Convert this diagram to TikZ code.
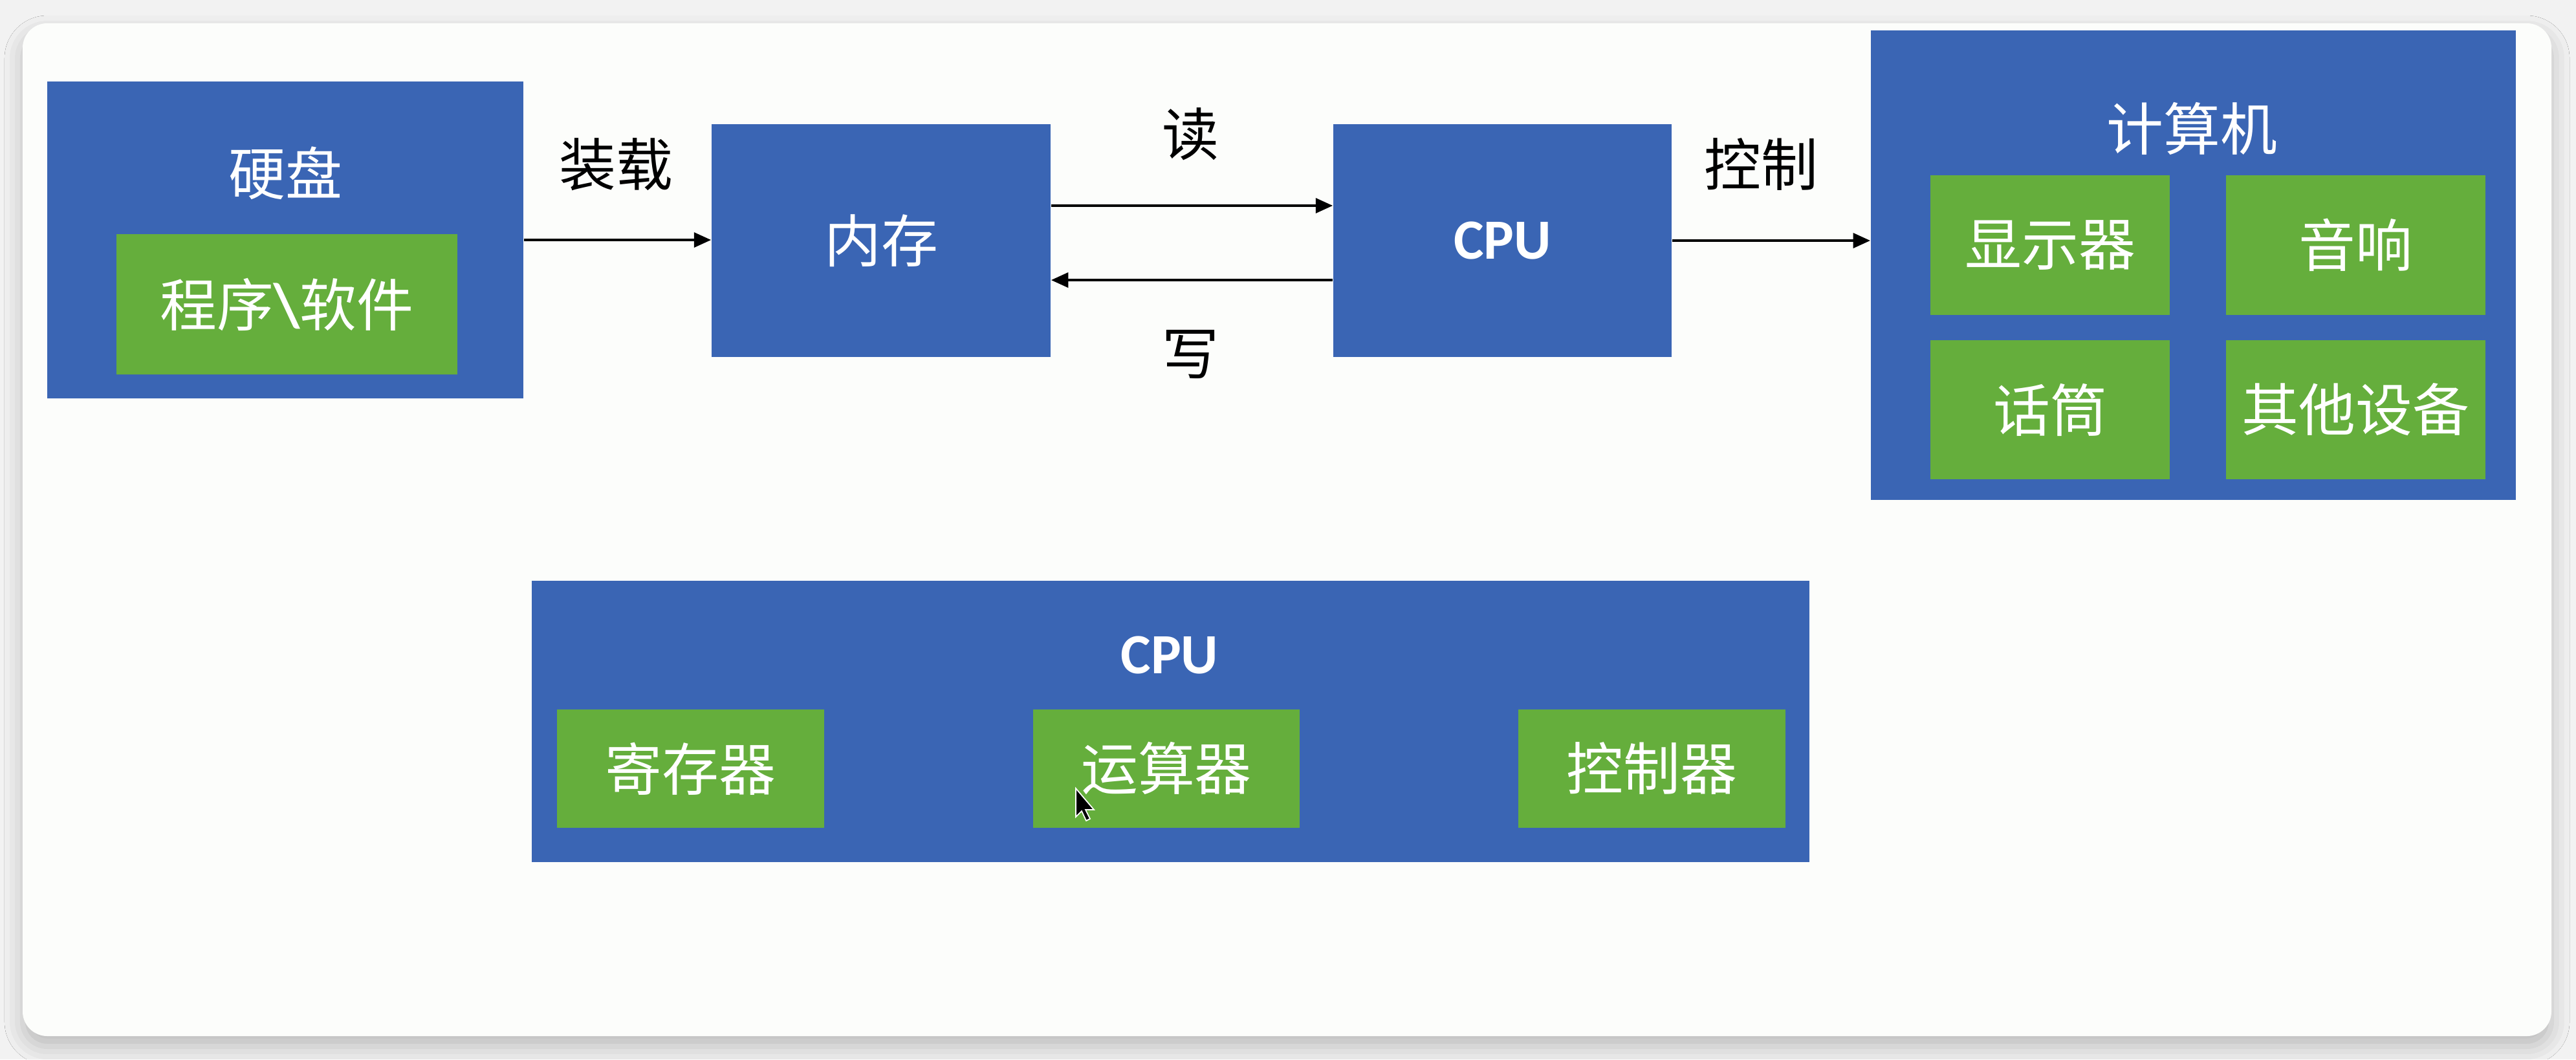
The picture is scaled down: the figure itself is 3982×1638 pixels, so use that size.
\documentclass[tikz,border=0pt]{standalone}
\usepackage{fontspec}
\setmainfont{Noto Sans CJK SC}
\newfontfamily\cpufont{Carlito}
\usetikzlibrary{arrows.meta,shadows.blur}

\definecolor{boxblue}{RGB}{58,101,180}
\definecolor{boxgreen}{RGB}{101,174,60}
\definecolor{cardwhite}{RGB}{252,253,251}
\definecolor{pagegray}{RGB}{242,242,242}

\begin{document}
\begin{tikzpicture}[
  x=0.01cm, y=-0.01cm,
  every node/.style={font=\fontsize{25}{30}\selectfont},
  bluebox/.style={fill=boxblue, draw=none, inner sep=0pt},
  greenbox/.style={fill=boxgreen, draw=none, inner sep=0pt, text=white},
  title/.style={text=white, inner sep=0pt},
  lbl/.style={text=black, inner sep=0pt},
  conn/.style={draw=black, line width=1.1pt,
    -{Triangle[length=7.5pt, width=6.5pt]}},
]
% page and card
\useasboundingbox (0,0) rectangle (3982,1638);
\fill[pagegray] (0,0) rectangle (3982,1638);
\fill[cardwhite, rounded corners=0.38cm,
  blur shadow={shadow xshift=0pt, shadow yshift=-0.16cm,
    shadow blur radius=0.28cm, shadow opacity=22}]
  (35,36) rectangle (3944,1602);

% hard disk
\node[bluebox, minimum width=7.36cm, minimum height=4.90cm] (hdd) at (441,371) {};
\node[title] (hddt) at (441,268) {硬盘};
\node[greenbox, minimum width=5.27cm, minimum height=2.17cm] (sw) at (443.5,470.5)
  {程序{\cpufont\bfseries\fontsize{27}{30}\selectfont\textbackslash}软件};

% memory and cpu
\node[bluebox, minimum width=5.24cm, minimum height=3.60cm, text=white] (mem) at (1362,372) {内存};
\node[bluebox, minimum width=5.23cm, minimum height=3.60cm, text=white,
  font=\cpufont\bfseries\fontsize{25}{30}\selectfont] (cpu) at (2322.5,372) {CPU};

% computer
\node[bluebox, minimum width=9.97cm, minimum height=7.26cm] (pc) at (3390.5,410) {};
\node[title] (pct) at (3388,199) {计算机};
\node[greenbox, minimum width=3.70cm, minimum height=2.16cm] (disp) at (3169,379) {显示器};
\node[greenbox, minimum width=4.01cm, minimum height=2.16cm] (spk) at (3641.5,379) {音响};
\node[greenbox, minimum width=3.70cm, minimum height=2.15cm] (mic) at (3169,633.5) {话筒};
\node[greenbox, minimum width=4.01cm, minimum height=2.15cm] (oth) at (3641.5,633.5) {其他设备};

% connectors and their labels
\draw[conn] (hdd.east) -- (hdd.east -| mem.west);
\node[lbl] (load) at (952,254) {装载};
\draw[conn] ([yshift=0.54cm]mem.east) -- ([yshift=0.54cm]cpu.west);
\node[lbl] (rd) at (1840,207) {读};
\draw[conn] ([yshift=-0.61cm]cpu.west) -- ([yshift=-0.61cm]mem.east);
\node[lbl] (wr) at (1840,548) {写};
\draw[conn] (cpu.east) -- (cpu.east -| pc.west);
\node[lbl] (ctrl) at (2722,254) {控制};

% cpu internals
\node[bluebox, minimum width=19.73cm, minimum height=4.35cm] (cpu2) at (1809.5,1115.5) {};
\node[title, font=\cpufont\bfseries\fontsize{25}{30}\selectfont] (cpu2t) at (1808,1013) {CPU};
\node[greenbox, minimum width=4.13cm, minimum height=1.83cm] (reg) at (1067.5,1188.5) {寄存器};
\node[greenbox, minimum width=4.12cm, minimum height=1.83cm] (alu) at (1803,1188.5) {运算器};
\node[greenbox, minimum width=4.13cm, minimum height=1.83cm] (ctl) at (2553.5,1188.5) {控制器};

% mouse pointer
\fill[black, draw=white, line width=0.5pt, line join=miter]
  (1663,1219) -- ++(0,44) -- ++(9,-9) -- ++(7,15) -- ++(6,-3) -- ++(-7,-14) -- ++(13,0) -- cycle;
\end{tikzpicture}
\end{document}
